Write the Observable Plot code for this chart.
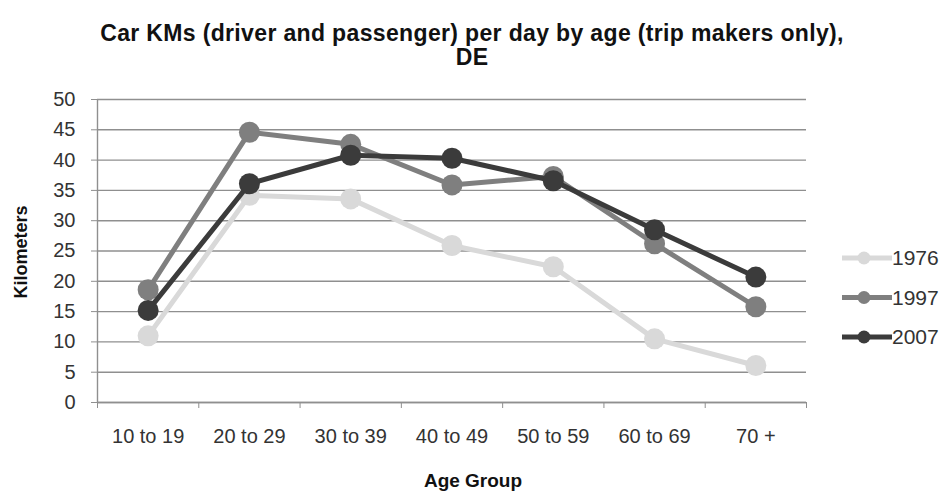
<!DOCTYPE html>
<html><head><meta charset="utf-8">
<script src="https://cdn.jsdelivr.net/npm/d3@7"></script>
<script src="https://cdn.jsdelivr.net/npm/@observablehq/plot@0.6"></script>
<style>
body{margin:0;background:#fff;font-family:"Liberation Sans",Arial,sans-serif;}
#wrap{position:relative;width:944px;height:491px;overflow:hidden;}
#title{position:absolute;left:0;top:21px;width:944px;text-align:center;font-weight:bold;font-size:23px;line-height:24px;color:#111;letter-spacing:0.35px;}
#ylab{position:absolute;left:21px;top:252px;transform:translate(-50%,-50%) rotate(-90deg);font-weight:bold;font-size:18px;color:#111;white-space:nowrap;}
#xlab{position:absolute;left:473px;top:470px;transform:translateX(-50%);font-weight:bold;font-size:19px;color:#111;white-space:nowrap;}
#legend{position:absolute;left:0;top:0;}
</style></head>
<body>
<div id="wrap">
<div id="chart"></div>
<div id="title">Car KMs (driver and passenger) per day by age (trip makers only),<br>DE</div>
<div id="ylab">Kilometers</div>
<div id="xlab">Age Group</div>
</div>
<script>
const categories = ["10 to 19","20 to 29","30 to 39","40 to 49","50 to 59","60 to 69","70 +"];
const years = ["1976","1997","2007"];
const v1976 = [11.0, 34.2, 33.6, 25.9, 22.4, 10.5, 6.1];
const v1997 = [18.6, 44.6, 42.6, 35.9, 37.3, 26.2, 15.8];
const v2007 = [15.2, 36.1, 40.8, 40.3, 36.6, 28.5, 20.7];
const yTicks = [0,5,10,15,20,25,30,35,40,45,50];
const colors = ["#d9d9d9","#7f7f7f","#3b3b3b"];

const series = [v1976, v1997, v2007];
const data = [];
years.forEach((y, k) => series[k].forEach((v, i) => data.push({year: y, i, value: v})));
const bounds = d3.range(categories.length + 1).map(i => i - 0.5);

const marks = [
  Plot.gridY(yTicks, {stroke: "#8f8f8f", strokeOpacity: 1, strokeWidth: 1.4}),
  Plot.axisY(yTicks, {tickSize: 6, tickPadding: 16, fontSize: 20, stroke: "#8f8f8f", fill: "#333", label: null}),
  Plot.axisX(bounds, {tickSize: 6, tickFormat: () => "", stroke: "#8f8f8f", label: null}),
  Plot.axisX(d3.range(categories.length), {tickSize: 0, tickPadding: 26, fontSize: 20, fill: "#333", tickFormat: i => categories[i], label: null}),
  Plot.ruleX([-0.5], {stroke: "#8f8f8f", strokeWidth: 1.4}),
  Plot.ruleY([0], {stroke: "#8f8f8f", strokeWidth: 1.4})
];
years.forEach(y => {
  marks.push(Plot.line(data, {filter: d => d.year === y, x: "i", y: "value", stroke: "year", strokeWidth: 5}));
  marks.push(Plot.dot(data, {filter: d => d.year === y, x: "i", y: "value", fill: "year", r: 10.5}));
});

const chart = Plot.plot({
  width: 944, height: 491,
  marginLeft: 97, marginRight: 138, marginTop: 99, marginBottom: 89,
  style: {fontFamily: '"Liberation Sans", Arial, sans-serif', background: "#fff"},
  x: {domain: [-0.5, categories.length - 0.5], axis: null},
  y: {domain: [0, 50], axis: null},
  color: {domain: years, range: colors},
  marks
});
document.getElementById("chart").appendChild(chart);

// legend
const lg = d3.select("#wrap").append("svg").attr("id", "legend").attr("width", 944).attr("height", 491);
years.forEach((y, k) => {
  const cy = 258 + k * 39.5;
  lg.append("line").attr("x1", 842).attr("x2", 892).attr("y1", cy).attr("y2", cy).attr("stroke", colors[k]).attr("stroke-width", 5);
  lg.append("circle").attr("cx", 864).attr("cy", cy).attr("r", 6.5).attr("fill", colors[k]);
  lg.append("text").attr("x", 892).attr("y", cy).attr("dy", "0.35em").attr("font-size", 21).attr("fill", "#333")
    .attr("font-family", '"Liberation Sans", Arial, sans-serif').text(y);
});
</script>
</body></html>
